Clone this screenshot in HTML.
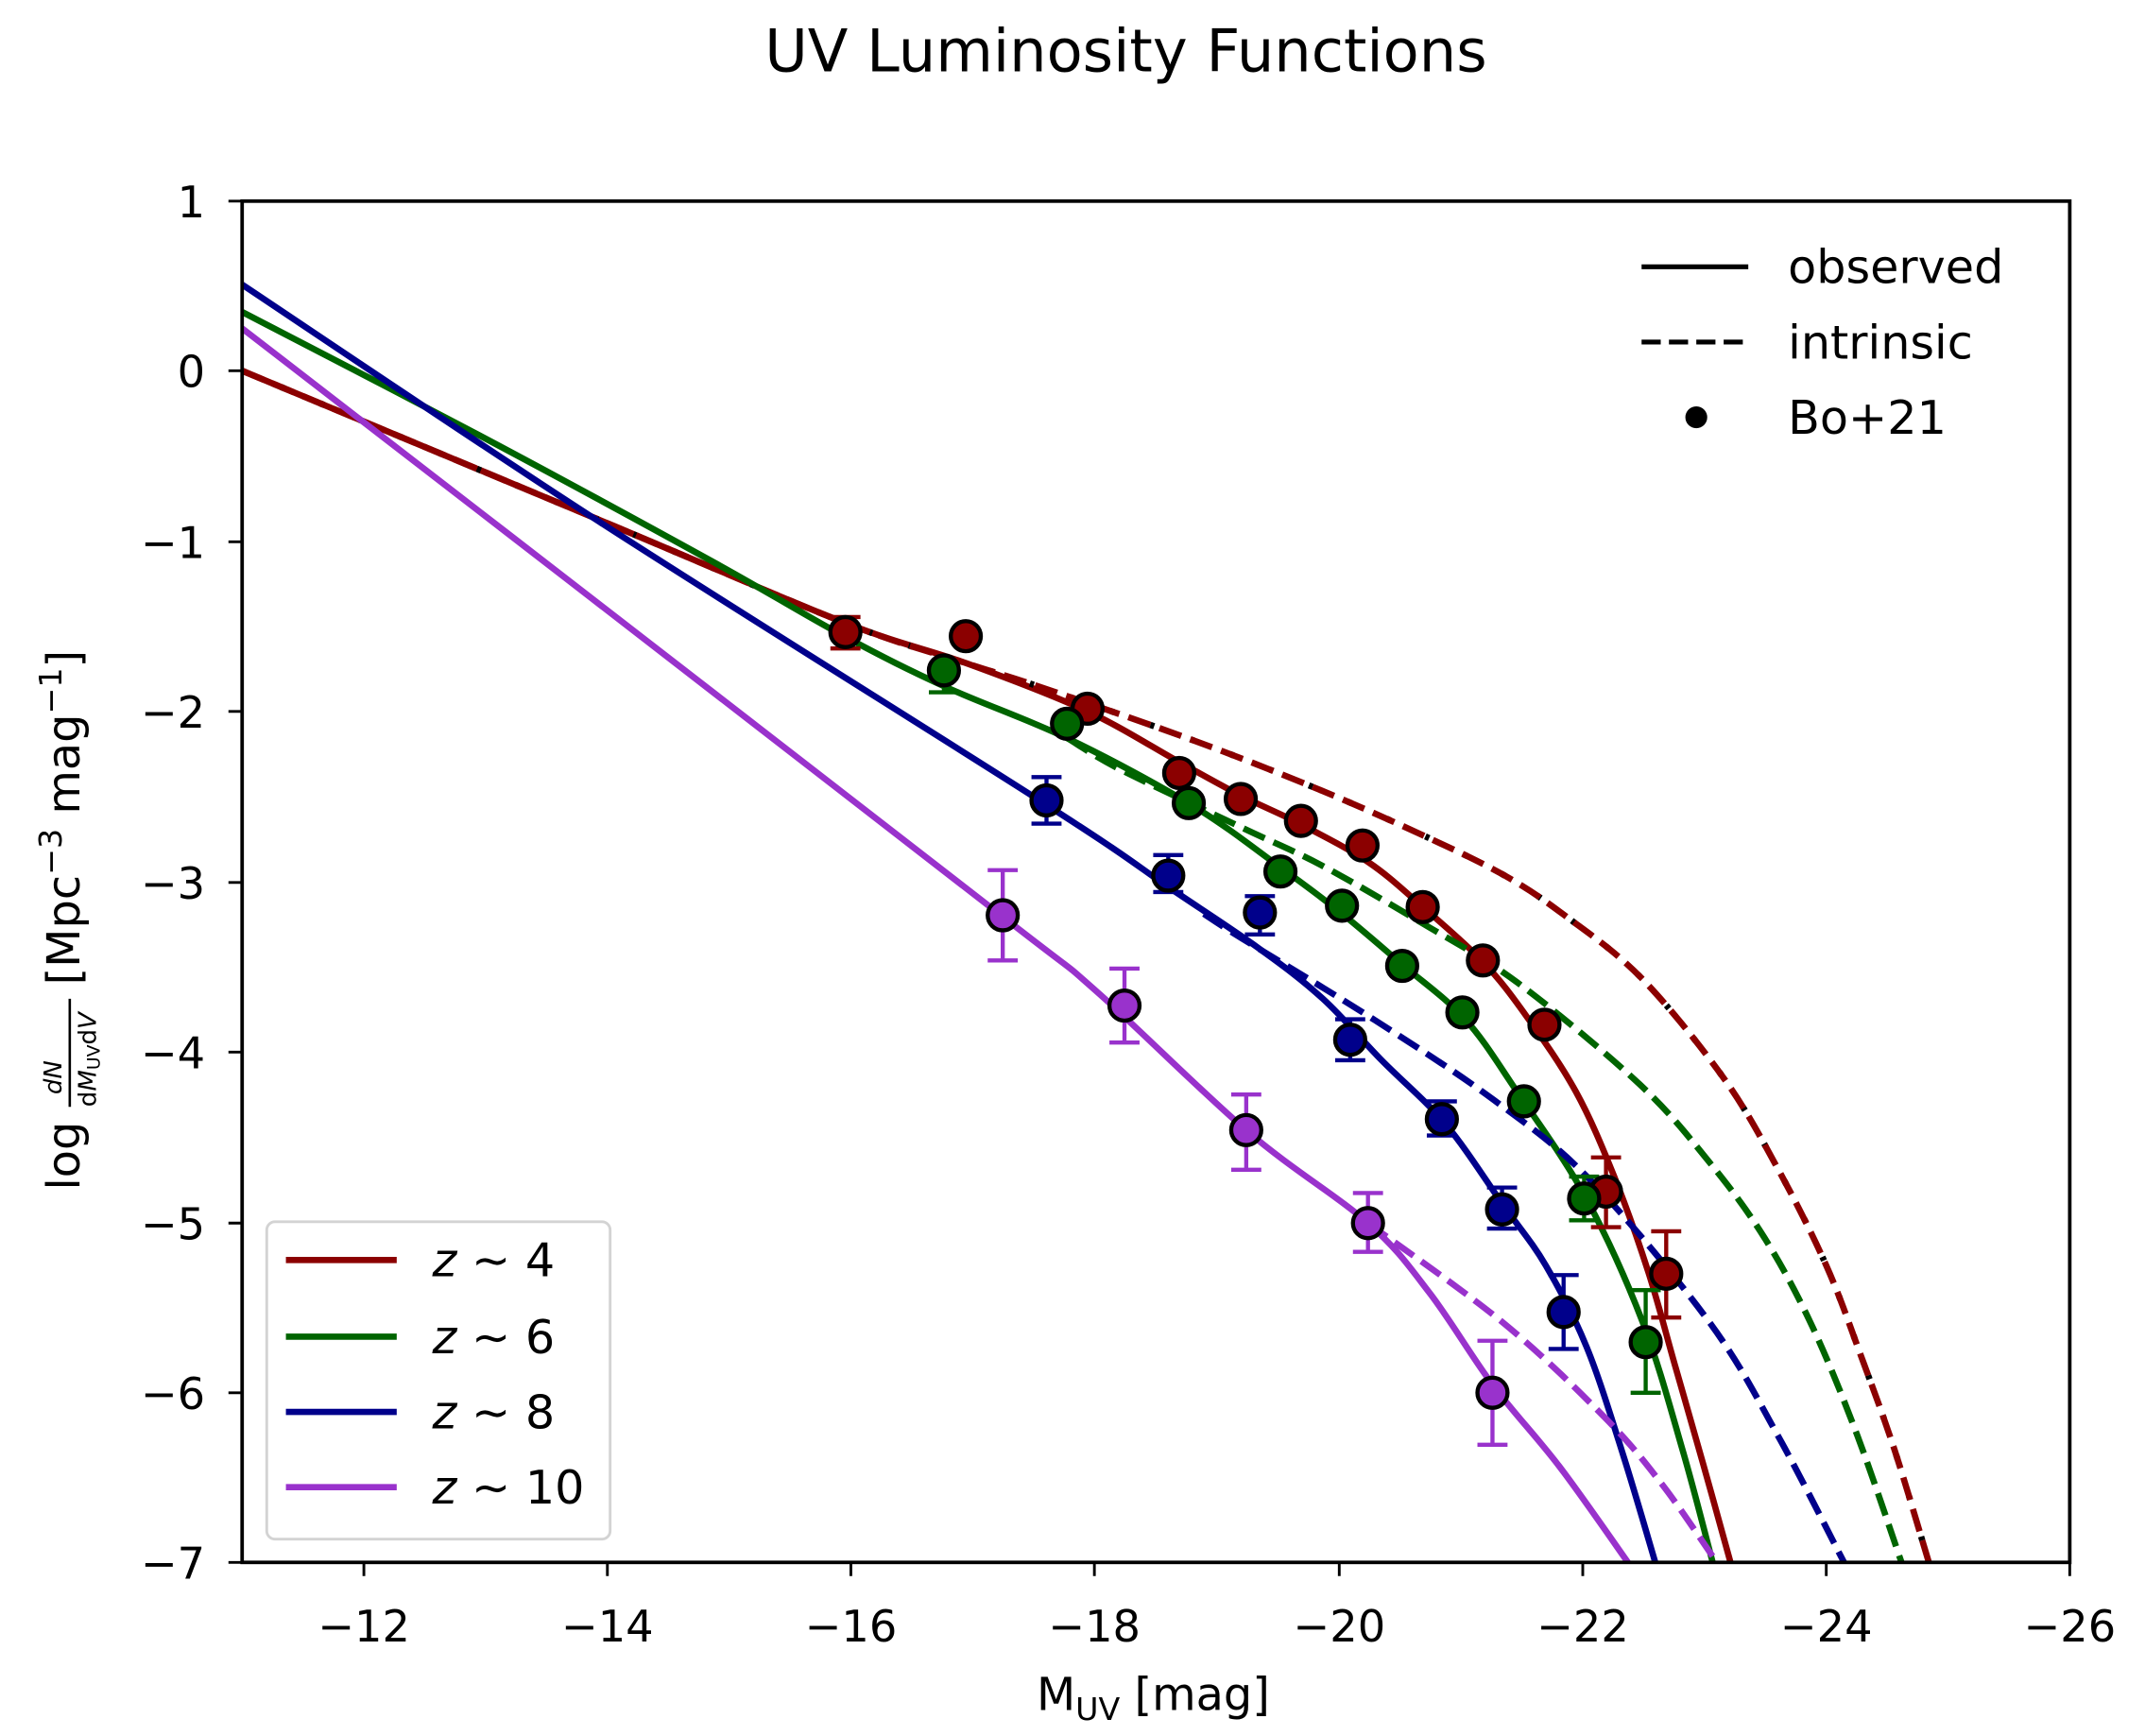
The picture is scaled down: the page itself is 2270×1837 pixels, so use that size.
<!DOCTYPE html>
<html><head><meta charset="utf-8"><style>
html,body{margin:0;padding:0;background:#fff}
svg{display:block}
text{font-family:"DejaVu Sans","Liberation Sans",sans-serif;fill:#000}
</style></head><body>
<svg width="2270" height="1837" viewBox="0 0 1568 1268.9" xmlns="http://www.w3.org/2000/svg">
<rect width="1568" height="1269" fill="#fff"/>
<text x="823" y="52" font-size="43" text-anchor="middle">UV Luminosity Functions</text>
<defs><clipPath id="c"><rect x="177" y="147" width="1336" height="995"/></clipPath></defs>
<g clip-path="url(#c)" fill="none" stroke-width="4.6" stroke-linejoin="round" stroke-linecap="butt">
<!-- z4 -->
<polyline class="s" stroke="#8B0000" points="177,271 450,385 617,455 707,485 795,520 862,557 908,582 950,602 1000,630 1039,662 1084,703 1116,743 1152,798 1180,860 1205,930 1225,1000 1245,1070 1265,1142"/>
<polyline class="s" stroke="#000" stroke-dasharray="3,28" points="177,271 450,385 617,455 707,485 760,502 872,541 964,577 1039,610 1100,640 1145,670 1200,715 1260,788 1300,855 1335,925 1360,990 1385,1060 1410,1142"/>
<polyline class="s" stroke="#8B0000" stroke-dasharray="17,7" points="177,271 450,385 617,455 707,485 760,502 872,541 964,577 1039,610 1100,640 1145,670 1200,715 1260,788 1300,855 1335,925 1360,990 1385,1060 1410,1142"/>
<!-- z6 -->
<polyline class="s" stroke="#006400" points="177,228 350,318 520,410 617,465 691,502 781,540 872,589 936,634 980,667 1025,705 1071,745 1109,798 1159,875 1201,967 1230,1060 1252,1142"/>
<polyline class="s" stroke="#006400" stroke-dasharray="17,7" points="781,540 820,563 908,605 967,633 1040,675 1109,718 1198,792 1250,850 1290,905 1325,970 1358,1050 1390,1142"/>
<!-- z8 -->
<polyline class="s" stroke="#00008B" points="177,208 436,380 763,587 855,649 920,693 967,730 1010,775 1057,822 1099,881 1130,925 1160,985 1187,1065 1210,1142"/>
<polyline class="s" stroke="#00008B" stroke-dasharray="17,7" points="880,668 908,686 1004,745 1092,804 1163,863 1250,967 1300,1050 1348,1142"/>
<!-- z10 -->
<polyline class="s" stroke="#9932CC" points="177,240 414,423 733,670 802,725 912,827 1000,894 1045,945 1091,1012 1140,1072 1190,1142"/>
<polyline class="s" stroke="#9932CC" stroke-dasharray="17,7" points="1000,894 1099,967 1173,1036 1215,1085 1255,1142"/>
</g>
<g stroke-width="3" fill="none">
<g stroke="#8B0000">
<path d="M618,451V474M607,451h22M607,474h22"/>
<path d="M1174,846V897M1163,846h22M1163,897h22"/>
<path d="M1218,900V963M1207,900h22M1207,963h22"/>
</g>
<g stroke="#006400">
<path d="M690,482V506M679,506h22"/>
<path d="M1158,860V892M1147,860h22M1147,892h22"/>
<path d="M1203,943V1018M1192,943h22M1192,1018h22"/>
</g>
<g stroke="#00008B">
<path d="M765,568V602M754,568h22M754,602h22"/>
<path d="M854,625V652M843,625h22M843,652h22"/>
<path d="M921,655V683M910,655h22M910,683h22"/>
<path d="M987,745V775M976,745h22M976,775h22"/>
<path d="M1054,805V830M1043,805h22M1043,830h22"/>
<path d="M1098,868V898M1087,868h22M1087,898h22"/>
<path d="M1143,932V986M1132,932h22M1132,986h22"/>
</g>
<g stroke="#9932CC">
<path d="M733,636V702M722,636h22M722,702h22"/>
<path d="M822,708V762M811,708h22M811,762h22"/>
<path d="M911,800V855M900,800h22M900,855h22"/>
<path d="M1000,872V915M989,872h22M989,915h22"/>
<path d="M1091,980V1056M1080,980h22M1080,1056h22"/>
</g>
</g>
<g stroke="#000" stroke-width="3">
<g fill="#8B0000">
<circle cx="618" cy="462" r="11"/><circle cx="706" cy="465" r="11"/><circle cx="795" cy="518" r="11"/><circle cx="862" cy="565" r="11"/><circle cx="907" cy="584" r="11"/><circle cx="951" cy="600" r="11"/><circle cx="996" cy="618" r="11"/><circle cx="1040" cy="663" r="11"/><circle cx="1084" cy="702" r="11"/><circle cx="1129" cy="749" r="11"/><circle cx="1174" cy="871" r="11"/><circle cx="1218" cy="931" r="11"/>
</g>
<g fill="#006400">
<circle cx="690" cy="490" r="11"/><circle cx="780" cy="529" r="11"/><circle cx="869" cy="587" r="11"/><circle cx="936" cy="637" r="11"/><circle cx="981" cy="662" r="11"/><circle cx="1025" cy="706" r="11"/><circle cx="1069" cy="740" r="11"/><circle cx="1114" cy="805" r="11"/><circle cx="1158" cy="876" r="11"/><circle cx="1203" cy="981" r="11"/>
</g>
<g fill="#00008B">
<circle cx="765" cy="585" r="11"/><circle cx="854" cy="640" r="11"/><circle cx="921" cy="667" r="11"/><circle cx="987" cy="760" r="11"/><circle cx="1054" cy="818" r="11"/><circle cx="1098" cy="884" r="11"/><circle cx="1143" cy="959" r="11"/>
</g>
<g fill="#9932CC">
<circle cx="733" cy="669" r="11"/><circle cx="822" cy="735" r="11"/><circle cx="911" cy="826" r="11"/><circle cx="1000" cy="894" r="11"/><circle cx="1091" cy="1018" r="11"/>
</g>
</g>
<!-- axes -->
<rect x="177" y="147" width="1336" height="995" fill="none" stroke="#000" stroke-width="2.6"/>
<g stroke="#000" stroke-width="2">
<path d="M266,1142v10M444,1142v10M622,1142v10M800,1142v10M979,1142v10M1157,1142v10M1335,1142v10M1513,1142v10"/>
<path d="M177,147h-10M177,271h-10M177,396h-10M177,520h-10M177,645h-10M177,769h-10M177,894h-10M177,1018h-10M177,1142h-10"/>
</g>
<g font-size="32" text-anchor="middle">
<text x="266" y="1200">−12</text><text x="444" y="1200">−14</text><text x="622" y="1200">−16</text><text x="800" y="1200">−18</text><text x="979" y="1200">−20</text><text x="1157" y="1200">−22</text><text x="1335" y="1200">−24</text><text x="1513" y="1200">−26</text>
</g>
<g font-size="32" text-anchor="end">
<text x="150" y="159">1</text><text x="150" y="283">0</text><text x="150" y="408">−1</text><text x="150" y="532">−2</text><text x="150" y="657">−3</text><text x="150" y="781">−4</text><text x="150" y="906">−5</text><text x="150" y="1030">−6</text><text x="150" y="1154">−7</text>
</g>
<text x="843" y="1250" font-size="33" text-anchor="middle">M<tspan font-size="23" dy="7">UV</tspan><tspan dy="-7"> [mag]</tspan></text>
<g transform="translate(58,642) rotate(-90)">
<text x="-228" y="0" font-size="33">log</text>
<text x="-158" y="-13" font-size="18" font-style="italic">dN</text>
<line x1="-167" y1="-7" x2="-88" y2="-7" stroke="#000" stroke-width="1.8"/>
<text x="-167" y="12" font-size="18">d<tspan font-style="italic">M</tspan><tspan font-size="13" dy="3">UV</tspan><tspan dy="-3">d</tspan><tspan font-style="italic">V</tspan></text>
<text x="-78" y="0" font-size="33">[Mpc<tspan font-size="23" dy="-13">−3</tspan><tspan dy="13"> mag</tspan><tspan font-size="23" dy="-13">−1</tspan><tspan dy="13">]</tspan></text>
</g>
<!-- upper legend -->
<line x1="1200" y1="195" x2="1278" y2="195" stroke="#000" stroke-width="3.6"/>
<line x1="1200" y1="250" x2="1278" y2="250" stroke="#000" stroke-width="3.6" stroke-dasharray="14,6"/>
<circle cx="1240" cy="305" r="8" fill="#000"/>
<g font-size="34"><text x="1307" y="207">observed</text><text x="1307" y="262">intrinsic</text><text x="1307" y="317">Bo+21</text></g>
<!-- lower legend -->
<rect x="195" y="893" width="251" height="232" rx="6" fill="#fff" fill-opacity="0.8" stroke="#d3d3d3" stroke-width="2"/>
<g stroke-width="4.6">
<line x1="209" y1="921" x2="290" y2="921" stroke="#8B0000"/>
<line x1="209" y1="977" x2="290" y2="977" stroke="#006400"/>
<line x1="209" y1="1032" x2="290" y2="1032" stroke="#00008B"/>
<line x1="209" y1="1087" x2="290" y2="1087" stroke="#9932CC"/>
</g>
<g font-size="34"><text x="316" y="933"><tspan font-style="italic">z</tspan> ∼ 4</text><text x="316" y="989"><tspan font-style="italic">z</tspan> ∼ 6</text><text x="316" y="1044"><tspan font-style="italic">z</tspan> ∼ 8</text><text x="316" y="1099"><tspan font-style="italic">z</tspan> ∼ 10</text></g>
</svg>
<script>
(function(){
var ns="http://www.w3.org/2000/svg";
document.querySelectorAll("polyline.s").forEach(function(pl){
 var p=pl.getAttribute("points").trim().split(/\s+/).map(function(s){var a=s.split(",");return [+a[0],+a[1]];});
 var d="M"+p[0][0]+","+p[0][1];
 for(var i=0;i<p.length-1;i++){
  var p0=p[i-1]||p[i],p1=p[i],p2=p[i+1],p3=p[i+2]||p2;
  var c1=[p1[0]+(p2[0]-p0[0])/6,p1[1]+(p2[1]-p0[1])/6];
  var c2=[p2[0]-(p3[0]-p1[0])/6,p2[1]-(p3[1]-p1[1])/6];
  d+=" C"+c1[0].toFixed(1)+","+c1[1].toFixed(1)+" "+c2[0].toFixed(1)+","+c2[1].toFixed(1)+" "+p2[0]+","+p2[1];
 }
 var path=document.createElementNS(ns,"path");
 ["stroke","stroke-dasharray"].forEach(function(a){if(pl.hasAttribute(a))path.setAttribute(a,pl.getAttribute(a));});
 path.setAttribute("d",d);
 pl.parentNode.replaceChild(path,pl);
});
})();
</script>
</body></html>
